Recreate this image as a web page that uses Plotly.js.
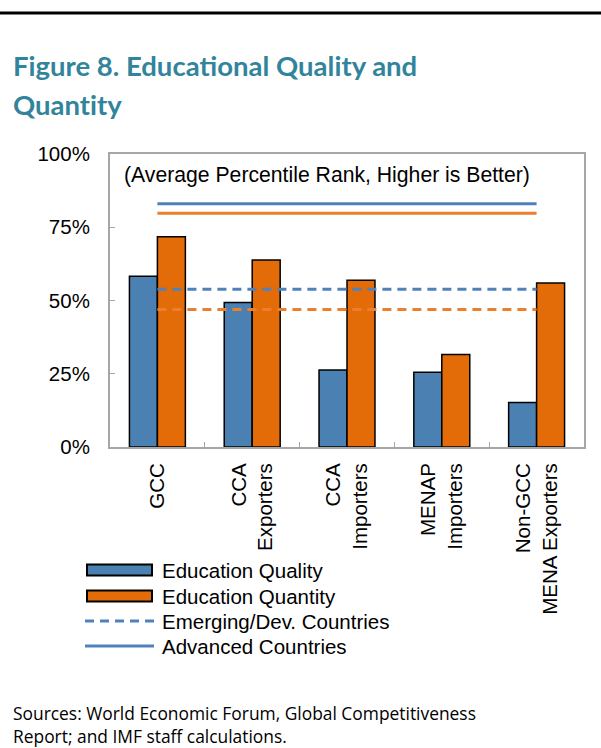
<!DOCTYPE html>
<html>
<head>
<meta charset="utf-8">
<script src="https://cdn.plot.ly/plotly-3.0.1.min.js"></script>
<style>
html,body{margin:0;padding:0;background:#fff;}
#chart{width:601px;height:748px;}
</style>
</head>
<body>
<div id="chart"></div>
<script>
// ---- data ----
const categories = ["GCC", "CCA Exporters", "CCA Importers", "MENAP Importers", "Non-GCC MENA Exporters"];
const tickLabels = ["GCC", "CCA<br>Exporters", "CCA<br>Importers", "MENAP<br>Importers", "Non-GCC<br>MENA Exporters"];
const educationQuality = [58.3, 49.3, 26.3, 25.5, 15.2];
const educationQuantity = [71.8, 63.8, 56.9, 31.6, 56.0];
const emergingQuality = 53.8;
const emergingQuantity = 46.9;
const advancedQuality = 83.0;
const advancedQuantity = 79.8;
const yTicks = [0, 25, 50, 75, 100];
const yTickLabels = ["0%", "25%", "50%", "75%", "100%"];

// ---- styling ----
const blueBar = "#4B80B2";
const orangeBar = "#E36C09";
const blueLine = "#4F81BD";
const orangeLine = "#EB7F2E";
const axisFont = {family: "Liberation Sans, Arial, sans-serif", size: 20.5, color: "#000"};
const dashPattern = "9px,6px";

const lineX = [categories[0], categories[categories.length - 1]];

const traces = [
  {type: "bar", name: "Education Quality", x: categories, y: educationQuality,
   marker: {color: blueBar, line: {color: "#000", width: 1.5}}, hoverinfo: "none"},
  {type: "bar", name: "Education Quantity", x: categories, y: educationQuantity,
   marker: {color: orangeBar, line: {color: "#000", width: 1.5}}, hoverinfo: "none"},
  {type: "scatter", mode: "lines", x: lineX, y: [emergingQuality, emergingQuality],
   line: {color: blueLine, width: 3, dash: dashPattern}, hoverinfo: "none"},
  {type: "scatter", mode: "lines", x: lineX, y: [emergingQuantity, emergingQuantity],
   line: {color: orangeLine, width: 3, dash: dashPattern}, hoverinfo: "none"},
  {type: "scatter", mode: "lines", x: lineX, y: [advancedQuality, advancedQuality],
   line: {color: blueLine, width: 3}, hoverinfo: "none"},
  {type: "scatter", mode: "lines", x: lineX, y: [advancedQuantity, advancedQuantity],
   line: {color: orangeLine, width: 3}, hoverinfo: "none"}
];

// plot area in pixels
const W = 601, H = 748;
const L = 110, R = 584, T = 154, B = 447;
const px = v => (v - L) / (R - L);
const py = v => (B - v) / (B - T);

const legendItems = [
  {label: "Education Quality", kind: "bar", color: blueBar, y: 570},
  {label: "Education Quantity", kind: "bar", color: orangeBar, y: 596},
  {label: "Emerging/Dev. Countries", kind: "dash", color: blueLine, y: 621},
  {label: "Advanced Countries", kind: "solid", color: blueLine, y: 646}
];

const ZW = "\u200C"; // prevent "ti" ligatures
const titleFont = {family: "Lato, Open Sans, sans-serif", size: 27.5, color: "#31849B"};
const srcFont = {family: "Open Sans, Noto Sans, sans-serif", size: 17.4, color: "#000"};

const shapes = [
  // top rule
  {type: "line", xref: "paper", yref: "paper", x0: px(0), x1: px(W), y0: py(13), y1: py(13),
   line: {color: "#000", width: 3}}
];
const annotations = [
  {xref: "paper", yref: "paper", x: px(11), y: py(66), xanchor: "left", yanchor: "middle",
   text: "<b>Figure 8. Educa" + ZW + "tional Quality and</b>", showarrow: false, font: titleFont},
  {xref: "paper", yref: "paper", x: px(11), y: py(105), xanchor: "left", yanchor: "middle",
   text: "<b>Quant" + ZW + "it" + ZW + "y</b>", showarrow: false, font: titleFont},
  {xref: "paper", yref: "paper", x: px(327), y: py(175), xanchor: "center", yanchor: "middle",
   text: "(Average Percentile Rank, Higher is Better)", showarrow: false,
   font: Object.assign({}, axisFont, {size: 21.2})},
  {xref: "paper", yref: "paper", x: px(11), y: py(713), xanchor: "left", yanchor: "middle",
   text: "Sources: World Economic Forum, Global Competitiveness", showarrow: false, font: srcFont},
  {xref: "paper", yref: "paper", x: px(11), y: py(736), xanchor: "left", yanchor: "middle",
   text: "Report; and IMF staff calculations.", showarrow: false, font: srcFont}
];

legendItems.forEach(it => {
  if (it.kind === "bar") {
    shapes.push({type: "rect", xref: "paper", yref: "paper", x0: px(87), x1: px(152), y0: py(it.y - 5.5), y1: py(it.y + 5.5),
      fillcolor: it.color, line: {color: "#000", width: 2}});
  } else {
    shapes.push({type: "line", xref: "paper", yref: "paper", x0: px(85), x1: px(154), y0: py(it.y), y1: py(it.y),
      line: {color: it.color, width: 3, dash: it.kind === "dash" ? dashPattern : "solid"}});
  }
  annotations.push({xref: "paper", yref: "paper", x: px(160), y: py(it.y), xanchor: "left", yanchor: "middle",
    text: it.label, showarrow: false, font: axisFont});
});

const layout = {
  width: W, height: H,
  margin: {l: L, r: W - R, t: T, b: H - B, pad: 0},
  paper_bgcolor: "#fff", plot_bgcolor: "#fff",
  showlegend: false,
  barmode: "group", bargap: 0.41, bargroupgap: 0,
  font: axisFont,
  xaxis: {
    type: "category", tickmode: "array", tickvals: categories, ticktext: tickLabels, tickangle: -90,
    ticks: "inside", ticklen: 5, tickcolor: "#A6A6A6", tickson: "boundaries",
    showline: true, linecolor: "#A6A6A6", linewidth: 2, mirror: true,
    showgrid: false, zeroline: false, tickfont: axisFont, ticklabelstandoff: 6
  },
  yaxis: {
    range: [0, 100], tickmode: "array", tickvals: yTicks, ticktext: yTickLabels,
    ticks: "inside", ticklen: 5, tickcolor: "#A6A6A6",
    showline: true, linecolor: "#A6A6A6", linewidth: 2, mirror: true,
    showgrid: false, zeroline: false, tickfont: axisFont, ticklabelstandoff: 14
  },
  shapes: shapes,
  annotations: annotations
};

Plotly.newPlot("chart", traces, layout, {staticPlot: true, displayModeBar: false});
</script>
</body>
</html>
